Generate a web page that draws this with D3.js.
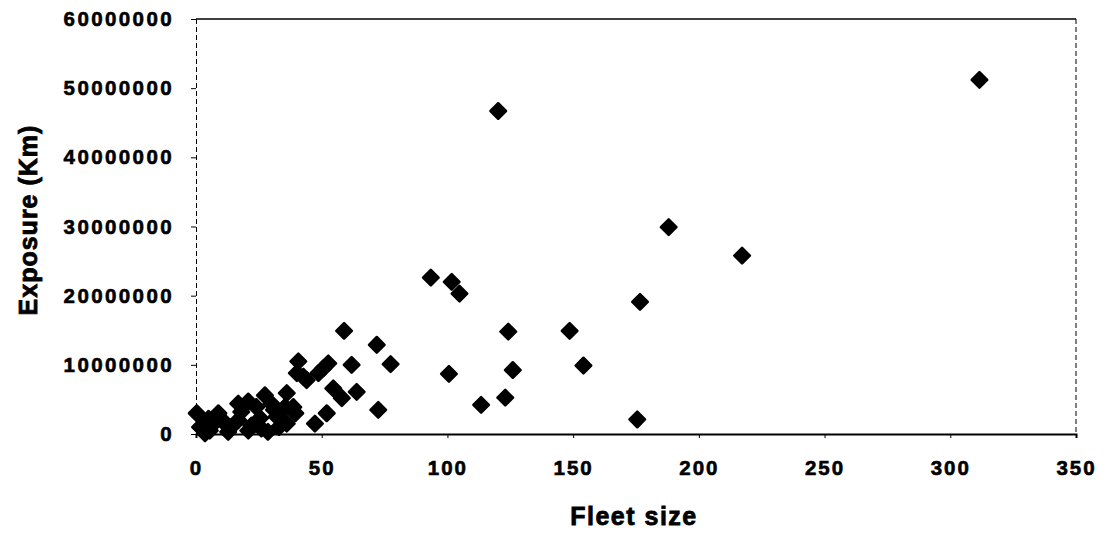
<!DOCTYPE html>
<html>
<head>
<meta charset="utf-8">
<script src="https://cdn.jsdelivr.net/npm/d3@7"></script>
<style>
  body { margin: 0; background: #fff; }
  text { font-family: "Liberation Sans", Arial, sans-serif; font-weight: bold; fill: #000; }
</style>
</head>
<body>
<svg></svg>
<script>
// data (fleet size, exposure in km)
const fleetSize = [311.6, 120.2, 188.0, 217.2, 93.4, 101.7, 104.8, 176.6, 124.2, 148.6,
  58.9, 71.9, 77.4, 100.6, 126.0, 154.1, 113.4, 123.0, 175.5, 72.5,
  61.9, 63.9, 52.6, 40.7, 40.1, 44.0, 48.7, 50.6, 54.6, 58.0,
  52.0, 47.3, 36.1, 38.7, 36.1, 39.5, 42.7, 0.3, 8.9, 16.8,
  20.8, 27.4, 25.5, 32.1, 35.4, 3.6, 12.8, 20.8, 28.6, 11.5,
  16.8, 1.6, 5.5, 24.0, 30.0, 18.0, 14.0, 7.0, 22.0, 33.0,
  26.0, 10.0, 5.0, 31.0];
const exposure = [51200000, 46700000, 29900000, 25800000, 22600000, 22000000, 20300000, 19100000, 14800000, 14900000,
  14900000, 12900000, 10100000, 8700000, 9250000, 9900000, 4200000, 5250000, 2100000, 3500000,
  10000000, 6100000, 10200000, 10500000, 8800000, 7800000, 8800000, 9500000, 6600000, 5200000,
  3000000, 1500000, 5900000, 3900000, 1500000, 3000000, 8300000, 3000000, 3000000, 4400000,
  4700000, 5600000, 2300000, 2500000, 3900000, 100000, 300000, 500000, 300000, 1500000,
  2000000, 1000000, 500000, 3900000, 4400000, 3200000, 1000000, 1500000, 1200000, 1000000,
  800000, 2200000, 2200000, 3500000];
const xTicks = [0, 50, 100, 150, 200, 250, 300, 350];
const yTicks = [0, 10000000, 20000000, 30000000, 40000000, 50000000, 60000000];

const width = 1109, height = 535;
const svg = d3.select('svg')
  .attr('width', width)
  .attr('height', height);

const x = d3.scaleLinear().domain([0, 350]).range([196, 1076]);
const y = d3.scaleLinear().domain([0, 60000000]).range([434, 19]);

// frame: solid top and bottom, broken left and right
svg.append('line')
  .attr('x1', x(0)).attr('x2', x(350)).attr('y1', y(60000000)).attr('y2', y(60000000))
  .attr('stroke', '#000').attr('stroke-width', 1.5);
svg.append('line')
  .attr('x1', x(350)).attr('x2', x(350)).attr('y1', y(60000000)).attr('y2', y(0))
  .attr('stroke', '#000').attr('stroke-width', 1).attr('stroke-dasharray', '5,3');

// y axis
const yAxis = svg.append('g')
  .attr('transform', `translate(${x(0)},0)`)
  .call(d3.axisLeft(y).tickValues(yTicks).tickSize(5).tickPadding(17).tickFormat(d3.format('d')));
yAxis.select('.domain').attr('stroke-width', 1).attr('stroke-dasharray', '5,3');
yAxis.selectAll('text')
  .attr('font-size', 20.5).attr('font-family', '"Liberation Sans", Arial, sans-serif')
  .attr('font-weight', 'bold').attr('letter-spacing', 2.4)
  .attr('stroke', '#000').attr('stroke-width', 0.6);

// x axis
const xAxis = svg.append('g')
  .attr('transform', `translate(0,${y(0)})`)
  .call(d3.axisBottom(x).tickValues(xTicks).tickSize(4).tickPadding(22));
xAxis.select('.domain').attr('stroke-width', 2);
xAxis.selectAll('text')
  .attr('font-size', 20.5).attr('font-family', '"Liberation Sans", Arial, sans-serif')
  .attr('font-weight', 'bold').attr('letter-spacing', 2)
  .attr('stroke', '#000').attr('stroke-width', 0.6);

// points
const pts = fleetSize.map((f, i) => ({ f: f, e: exposure[i] }));
svg.append('g').selectAll('rect')
  .data(pts)
  .enter()
  .append('rect')
  .attr('x', -5.5).attr('y', -5.5)
  .attr('width', 11).attr('height', 11)
  .attr('fill', '#000').attr('stroke', '#000')
  .attr('stroke-width', 2.5).attr('stroke-linejoin', 'round')
  .attr('transform', d => `translate(${x(d.f)},${y(d.e)}) rotate(45)`);

// titles
svg.append('text')
  .attr('x', 634).attr('y', 525)
  .attr('text-anchor', 'middle')
  .attr('font-size', 25).attr('letter-spacing', 1.5)
  .attr('stroke', '#000').attr('stroke-width', 0.8)
  .text('Fleet size');

svg.append('text')
  .attr('transform', 'translate(37,220) rotate(-90)')
  .attr('text-anchor', 'middle')
  .attr('font-size', 25).attr('letter-spacing', 1)
  .attr('stroke', '#000').attr('stroke-width', 0.8)
  .text('Exposure (Km)');
</script>
</body>
</html>
